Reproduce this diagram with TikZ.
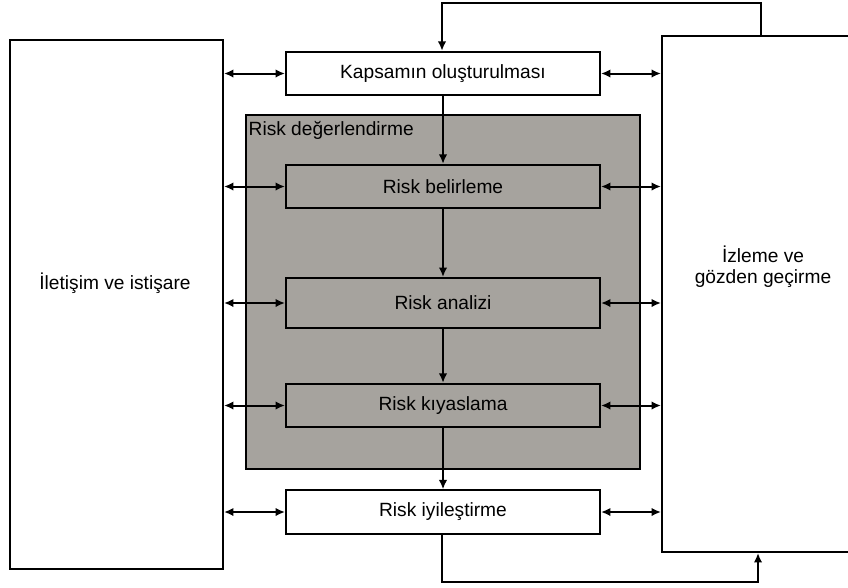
\documentclass[tikz,border=0pt]{standalone}
\usepackage{fontspec}
\setmainfont{Liberation Sans}
\usetikzlibrary{positioning,arrows.meta}
\definecolor{riskgray}{RGB}{166,163,158}
\tikzset{stage/.style={draw,rectangle,line width=1.2pt,minimum width=188.4pt,minimum height=26pt,inner sep=0pt},
  side/.style={draw,rectangle,line width=1.2pt,inner sep=0pt},
  arr/.style={-{Latex[length=2mm,width=1.8mm]},line width=1.2pt},
  both/.style={{Latex[length=2mm,width=1.8mm]}-{Latex[length=2mm,width=1.8mm]},line width=1.2pt}}

\begin{document}
\begin{tikzpicture}[x=0.6pt,y=-0.6pt,font=\fontsize{11.5}{12.8}\selectfont]
\useasboundingbox (0,0) rectangle (848,587);
\node[side,minimum width=127.8pt,minimum height=317.4pt] (iletisim) at (116.5,304.5) {};
\node (iletisimtext) at (115,283) {İletişim ve istişare};
\node[side,minimum width=122.4pt,minimum height=309.6pt] (izleme) at (764,294) {};
\node[align=center] (izlemetext) at (763,267) {İzleme ve\\gözden geçirme};
\node[side,fill=riskgray,minimum width=236.4pt,minimum height=212.4pt] (degerlendirme) at (443,292) {};
\node[anchor=north west,inner xsep=2pt,inner ysep=4.5pt] (degerlendirmetext) at (degerlendirme.north west) {Risk değerlendirme};
\node[stage,fill=white] (kapsam) at (443,73.5) {Kapsamın oluşturulması};
\node[stage] (belirleme) at (443,186.5) {Risk belirleme};
\node[stage,minimum height=30pt] (analiz) at (443,303) {Risk analizi};
\node[stage] (kiyas) at (443,405.5) {Risk kıyaslama};
\node[stage,fill=white] (iyiles) at (443,512) {Risk iyileştirme};
% downward flow
\draw[arr] (kapsam) -- (belirleme);
\draw[arr] (belirleme) -- (analiz);
\draw[arr] (analiz) -- (kiyas);
\draw[arr] (kiyas) -- (iyiles);
% links to the side boxes
\foreach \s in {kapsam,belirleme,analiz,kiyas,iyiles}{
  \draw[both] (\s.west -| iletisim.east) -- (\s.west);
  \draw[both] (\s.east) -- (\s.east -| izleme.west);
}
% feedback loops
\coordinate (topright) at (761,3);
\coordinate (topleft) at (442,3);
\draw[arr] (topright |- izleme.north) -- (topright) -- (topleft) -- (kapsam.north -| topleft);
\coordinate (botleft) at (442,582);
\coordinate (botright) at (758,582);
\draw[arr] (iyiles.south -| botleft) -- (botleft) -- (botright) -- (izleme.south -| botright);
\end{tikzpicture}
\end{document}
